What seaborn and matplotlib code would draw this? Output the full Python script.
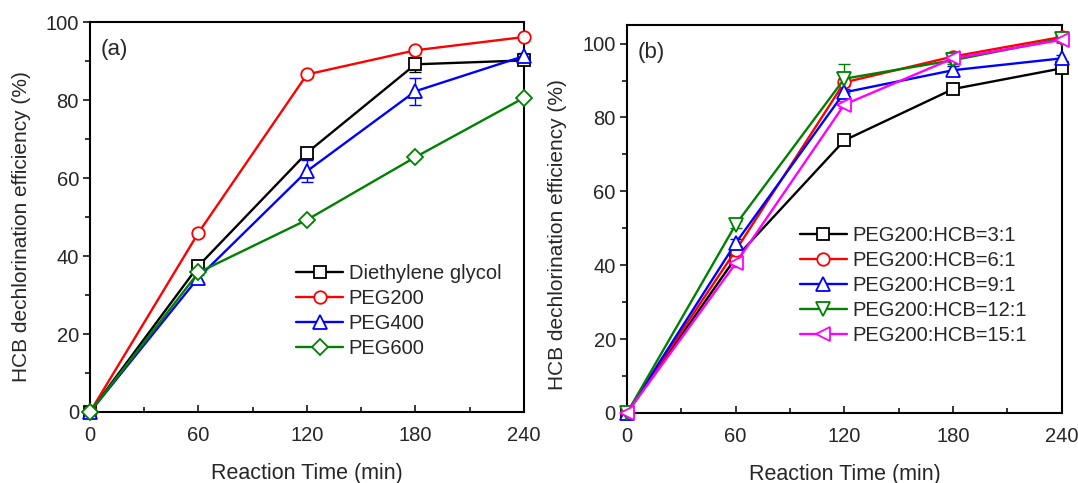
import matplotlib
matplotlib.use("Agg")
import matplotlib.pyplot as plt
from matplotlib.ticker import MultipleLocator
import seaborn as sns
import pandas as pd

sns.set_style("ticks")
plt.rcParams['font.family'] = ['Liberation Sans', 'DejaVu Sans']

time = [0, 60, 120, 180, 240]

# Panel (a)
a_labels = ["Diethylene glycol", "PEG200", "PEG400", "PEG600"]
a_diethylene = [0, 37.5, 66.5, 89.2, 90.2]
a_peg200 = [0, 46.0, 86.6, 92.8, 96.2]
a_peg400 = [0, 34.5, 61.8, 82.3, 91.3]
a_peg600 = [0, 35.8, 49.3, 65.4, 80.6]
a_err_diethylene = [0, 1.0, 1.0, 2.0, 0.8]
a_err_peg200 = [0, 0.8, 0.6, 0.8, 0.6]
a_err_peg400 = [0, 1.2, 2.8, 3.5, 0.8]
a_err_peg600 = [0, 0.6, 0.6, 0.6, 0.6]

# Panel (b)
b_labels = ["PEG200:HCB=3:1", "PEG200:HCB=6:1", "PEG200:HCB=9:1",
            "PEG200:HCB=12:1", "PEG200:HCB=15:1"]
b_3 = [0, 42.0, 73.8, 87.7, 93.3]
b_6 = [0, 44.0, 89.5, 96.5, 101.8]
b_9 = [0, 46.0, 86.8, 92.8, 96.0]
b_12 = [0, 51.0, 90.5, 95.5, 101.3]
b_15 = [0, 40.5, 83.5, 96.0, 101.0]
b_err_3 = [0, 1.0, 1.0, 1.0, 0.8]
b_err_6 = [0, 1.0, 1.0, 1.0, 0.8]
b_err_9 = [0, 1.0, 1.0, 1.0, 0.8]
b_err_12 = [0, 1.0, 4.0, 1.0, 0.8]
b_err_15 = [0, 1.0, 1.0, 1.0, 0.8]

colors_a = ["black", "#ff0000", "#0000ff", "#008000"]
markers_a = ["s", "o", "^", "D"]
sizes_a = [8.5, 9, 9.5, 8.5]
colors_b = ["black", "#ff0000", "#0000ff", "#008000", "#ff00ff"]
markers_b = ["s", "o", "^", "v", "<"]
sizes_b = [8.5, 9, 9.5, 9.5, 9.5]

fig = plt.figure(figsize=(10.78, 4.83), dpi=100)
axa = fig.add_axes([0.0835, 0.147, 0.4025, 0.807])
axb = fig.add_axes([0.5816, 0.145, 0.4034, 0.803])


def draw(ax, labels, series, errs, colors, markers, sizes):
    for lab, ys, es, c, m, s in zip(labels, series, errs, colors, markers, sizes):
        df = pd.DataFrame({"t": time, "y": ys})
        ax.errorbar(time, ys, yerr=es, fmt="none", ecolor=c, elinewidth=1.0,
                    capsize=4, capthick=1.0, zorder=2)
        sns.lineplot(data=df, x="t", y="y", ax=ax, color=c, marker=m,
                     markersize=s, markerfacecolor="white", markeredgecolor=c,
                     markeredgewidth=1.3, linewidth=1.7, label=lab, zorder=3,
                     clip_on=False)


draw(axa, a_labels, [a_diethylene, a_peg200, a_peg400, a_peg600],
     [a_err_diethylene, a_err_peg200, a_err_peg400, a_err_peg600],
     colors_a, markers_a, sizes_a)
draw(axb, b_labels, [b_3, b_6, b_9, b_12, b_15],
     [b_err_3, b_err_6, b_err_9, b_err_12, b_err_15],
     colors_b, markers_b, sizes_b)

for ax, ylim, tag, ylc in [(axa, (0, 100), "(a)", (-0.136, 0.477)),
                           (axb, (0, 105), "(b)", (-0.138, 0.461))]:
    ax.set_xlim(0, 240)
    ax.set_ylim(*ylim)
    ax.xaxis.set_major_locator(MultipleLocator(60))
    ax.xaxis.set_minor_locator(MultipleLocator(30))
    ax.yaxis.set_major_locator(MultipleLocator(20))
    ax.yaxis.set_minor_locator(MultipleLocator(10))
    ax.tick_params(which="both", labelsize=14.5, width=1.3)
    ax.tick_params(axis="x", which="both", direction="in")
    ax.tick_params(axis="y", which="both", direction="out")
    ax.tick_params(axis="x", which="major", length=5, pad=10)
    ax.tick_params(axis="x", which="minor", length=3.5)
    ax.tick_params(axis="y", which="major", length=5, pad=3)
    ax.tick_params(axis="y", which="minor", length=3.5)
    for sp in ax.spines.values():
        sp.set_visible(True)
        sp.set_linewidth(1.5)
        sp.set_color("black")
    ax.set_xlabel("Reaction Time (min)", fontsize=15.5, labelpad=13)
    ax.set_ylabel("HCB dechlorination efficiency (%)", fontsize=15)
    ax.yaxis.set_label_coords(*ylc)
    ax.text(0.025, 0.93, tag, transform=ax.transAxes, fontsize=16,
            ha="left", va="center")

axa.legend(loc="upper left", bbox_to_anchor=(0.457, 0.40), frameon=False,
           fontsize=14.5, handlelength=2.3, handletextpad=0.3, labelspacing=0.3,
           borderaxespad=0)
axb.legend(loc="upper left", bbox_to_anchor=(0.38, 0.503), frameon=False,
           fontsize=14.5, handlelength=2.3, handletextpad=0.3, labelspacing=0.3,
           borderaxespad=0)

fig.savefig("out.png", dpi=100, facecolor="white")
